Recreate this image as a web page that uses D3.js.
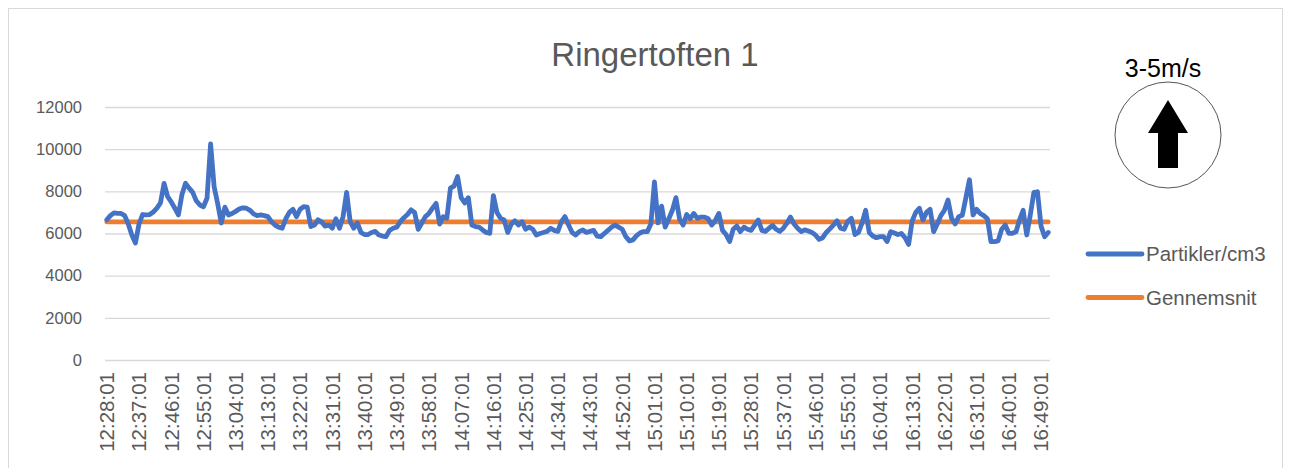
<!DOCTYPE html>
<html>
<head>
<meta charset="utf-8">
<script src="https://cdn.jsdelivr.net/npm/d3@7"></script>
<style>
  body { margin: 0; background: #fff; }
  svg { display: block; font-family: "Liberation Sans", Arial, sans-serif; }
</style>
</head>
<body>
<div id="wrapper"></div>
<script>
// Data (one value per minute, 12:28:01 - 16:51:01)
const startTime = "12:28:01";
const partikler = [
  6650, 6850, 6980, 6950, 6950, 6850, 6450, 5930, 5550, 6450,
  6900, 6880, 6900, 7020, 7200, 7450, 8380, 7750, 7500, 7200,
  6880, 7850, 8380, 8150, 7950, 7550, 7350, 7270, 7670, 10250,
  8200, 7400, 6500, 7250, 6880, 6950, 7050, 7160, 7220, 7200,
  7100, 6930, 6850, 6880, 6850, 6800, 6560, 6400, 6300, 6250,
  6700, 7000, 7150, 6800, 7150, 7270, 7250, 6330, 6400, 6650,
  6550, 6350, 6400, 6250, 6700, 6250, 6800, 7950, 6560, 6250,
  6500, 6050, 5950, 5950, 6050, 6100, 5930, 5880, 5850, 6150,
  6250, 6300, 6560, 6750, 6900, 7120, 7000, 6200, 6500, 6800,
  6950, 7200, 7430, 6450, 6800, 6720, 8150, 8250, 8700, 7700,
  7450, 7700, 6400, 6330, 6300, 6170, 6050, 6010, 7800, 7000,
  6720, 6640, 6050, 6450, 6600, 6400, 6560, 6200, 6300, 6200,
  5930, 6000, 6050, 6100, 6250, 6150, 6100, 6560, 6800, 6400,
  6050, 5930, 6090, 6170, 6050, 6100, 6150, 5870, 5850, 6000,
  6150, 6300, 6400, 6300, 6200, 5850, 5650, 5700, 5900, 6030,
  6090, 6090, 6450, 8450, 6500, 7300, 6300, 6700, 7100, 7700,
  6700, 6400, 6900, 6700, 6950, 6720, 6780, 6780, 6700, 6400,
  6620, 6950, 6150, 5950, 5620, 6200, 6350, 6090, 6300, 6200,
  6150, 6400, 6640, 6150, 6100, 6250, 6380, 6200, 6100, 6250,
  6490, 6780, 6450, 6250, 6090, 6170, 6120, 6050, 5920, 5720,
  5800, 6050, 6220, 6400, 6600, 6250, 6200, 6580, 6720, 5950,
  6050, 6500, 7100, 6050, 5880, 5800, 5850, 5850, 5620, 6090,
  6020, 5950, 6000, 5800, 5480, 6600, 7000, 7200, 6640, 7000,
  7150, 6090, 6450, 6850, 7100, 7590, 6720, 6450, 6800, 6870,
  7700, 8550, 6880, 7150, 6950, 6850, 6700, 5620, 5610, 5650,
  6200, 6400, 6010, 6010, 6080, 6650, 7100, 5930, 6880, 7950,
  7980, 6350, 5850, 6050
];
const gennemsnit = 6550;
const tickLabels = [
  "12:28:01", "12:37:01", "12:46:01", "12:55:01", "13:04:01", "13:13:01",
  "13:22:01", "13:31:01", "13:40:01", "13:49:01", "13:58:01", "14:07:01",
  "14:16:01", "14:25:01", "14:34:01", "14:43:01", "14:52:01", "15:01:01",
  "15:10:01", "15:19:01", "15:28:01", "15:37:01", "15:46:01", "15:55:01",
  "16:04:01", "16:13:01", "16:22:01", "16:31:01", "16:40:01", "16:49:01"
];
const yTicks = [0, 2000, 4000, 6000, 8000, 10000, 12000];
const seriesNames = ["Partikler/cm3", "Gennemsnit"];
const seriesColors = ["#4472C4", "#ED7D31"];

// categories = time of each minute
const parseT = d3.timeParse("%H:%M:%S");
const fmtT = d3.timeFormat("%H:%M:%S");
const categories = partikler.map((d, i) => fmtT(d3.timeMinute.offset(parseT(startTime), i)));

const dimensions = {
  width: 1289, height: 468,
  margins: { top: 107, bottom: 108, left: 105, right: 239 }
};
dimensions.boundedWidth = dimensions.width - dimensions.margins.left - dimensions.margins.right;
dimensions.boundedHeight = dimensions.height - dimensions.margins.top - dimensions.margins.bottom;

const svg = d3.select('#wrapper').append('svg')
  .attr('width', dimensions.width).attr('height', dimensions.height);

// chart border
svg.append('rect')
  .attr('x', 8.5).attr('y', 8.5).attr('width', 1274).attr('height', 480)
  .attr('fill', 'none').attr('stroke', '#d9d9d9').attr('stroke-width', 1);

const bounds = svg.append('g')
  .attr('transform', `translate(${dimensions.margins.left},${dimensions.margins.top})`);

// scales
const xScale = d3.scaleBand()
  .domain(categories).range([0, dimensions.boundedWidth]);
const xPos = d => xScale(d) + xScale.bandwidth() / 2;
const yScale = d3.scaleLinear()
  .domain([0, 12000]).range([dimensions.boundedHeight, 0]);

// gridlines + y labels
const yAxisGen = d3.axisLeft(yScale).tickValues(yTicks)
  .tickFormat(d3.format('d'))
  .tickSize(-dimensions.boundedWidth).tickPadding(23);
const yAxis = bounds.append('g').call(yAxisGen);
yAxis.select('.domain').remove();
yAxis.selectAll('line').attr('stroke', '#d9d9d9').attr('stroke-width', 1.3);
yAxis.selectAll('text')
  .attr('fill', '#595959').attr('font-size', '16.5px')
  .attr('font-family', '"Liberation Sans", Arial, sans-serif');

// x axis
const xAxisGen = d3.axisBottom(xScale).tickValues(tickLabels).tickSize(0);
const xAxis = bounds.append('g').call(xAxisGen)
  .attr('transform', `translate(0,${dimensions.boundedHeight})`);
xAxis.select('.domain').remove();
xAxis.selectAll('text')
  .attr('transform', 'rotate(-90)')
  .attr('text-anchor', 'end')
  .attr('x', -12).attr('y', 0).attr('dy', '0.36em')
  .attr('fill', '#595959').attr('font-size', '20.5px')
  .attr('font-family', '"Liberation Sans", Arial, sans-serif');

// average line
const avgLine = d3.line()
  .x(d => xPos(d)).y(() => yScale(gennemsnit));
bounds.append('path')
  .datum(categories)
  .attr('d', avgLine)
  .attr('fill', 'none').attr('stroke', seriesColors[1])
  .attr('stroke-width', 4.8).attr('stroke-linecap', 'round');

// particle line
const lineGen = d3.line()
  .x((d, i) => xPos(categories[i])).y(d => yScale(d));
bounds.append('path')
  .datum(partikler)
  .attr('d', lineGen)
  .attr('fill', 'none').attr('stroke', seriesColors[0])
  .attr('stroke-width', 4.8).attr('stroke-linejoin', 'round').attr('stroke-linecap', 'round');

// title
svg.append('text')
  .attr('x', 655).attr('y', 66)
  .attr('text-anchor', 'middle')
  .attr('fill', '#595959').attr('font-size', '33px')
  .text('Ringertoften 1');

// legend
const legend = svg.append('g').selectAll('g')
  .data(seriesNames).enter().append('g')
  .attr('transform', (d, i) => `translate(1088,${254 + i * 43.5})`);
legend.append('line')
  .attr('x1', 0).attr('x2', 54).attr('y1', 0).attr('y2', 0)
  .attr('stroke', (d, i) => seriesColors[i])
  .attr('stroke-width', 4.8).attr('stroke-linecap', 'round');
legend.append('text')
  .attr('x', 58).attr('y', 0).attr('dy', '0.35em')
  .attr('fill', '#595959').attr('font-size', '20.5px')
  .text(d => d);

// wind indicator
const wind = svg.append('g').attr('transform', 'translate(1168,135)');
wind.append('circle')
  .attr('r', 53).attr('fill', '#fff')
  .attr('stroke', '#555').attr('stroke-width', 1);
wind.append('path')
  .attr('d', 'M0,-35 L20,-2 L10,-2 L10,33 L-10,33 L-10,-2 L-20,-2 Z')
  .attr('fill', '#000');
svg.append('text')
  .attr('x', 1163).attr('y', 77)
  .attr('text-anchor', 'middle')
  .attr('fill', '#000').attr('font-size', '25px')
  .text('3-5m/s');
</script>
</body>
</html>
